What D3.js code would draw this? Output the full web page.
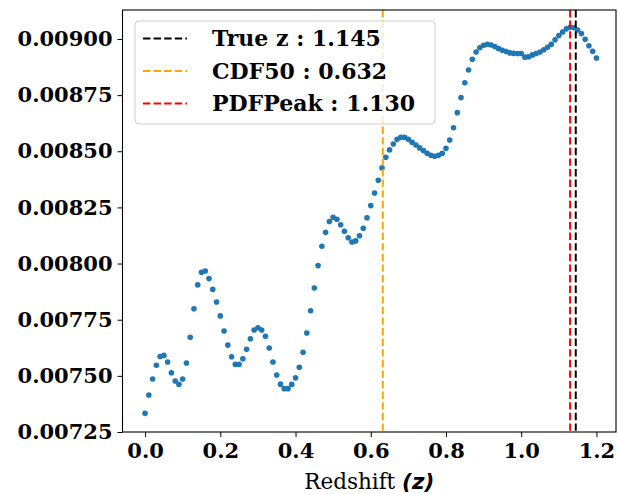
<!DOCTYPE html>
<html>
<head>
<meta charset="utf-8">
<script src="https://cdn.jsdelivr.net/npm/d3@7"></script>
<style>
  html, body { margin: 0; padding: 0; background: #fff; }
  svg { display: block; }
</style>
</head>
<body>
<svg id="chart" width="618" height="494"></svg>
<script>
// Redshift grid (0.00 .. 1.20 in steps of 0.01)
const redshift = d3.range(121).map(i => +(i * 0.01).toFixed(2));

// Probability density at each redshift
const pdfValues = [
  0.007333, 0.007415, 0.007486, 0.007547, 0.007586, 0.007591, 0.007562, 0.007514, 0.007477, 0.007462,
  0.007486, 0.007557, 0.007672, 0.007799, 0.007905, 0.007961, 0.007967, 0.007933, 0.007885, 0.007829,
  0.007767, 0.007700, 0.007637, 0.007585, 0.007551, 0.007551, 0.007576, 0.007618, 0.007665, 0.007704,
  0.007714, 0.007704, 0.007676, 0.007624, 0.007562, 0.007504, 0.007463, 0.007443, 0.007443, 0.007462,
  0.007491, 0.007538, 0.007605, 0.007691, 0.007790, 0.007891, 0.007991, 0.008077, 0.008139, 0.008187,
  0.008206, 0.008197, 0.008173, 0.008144, 0.008115, 0.008096, 0.008101, 0.008124, 0.008157, 0.008204,
  0.008258, 0.008314, 0.008371, 0.008426, 0.008473, 0.008506, 0.008532, 0.008553, 0.008562, 0.008562,
  0.008553, 0.008540, 0.008528, 0.008515, 0.008503, 0.008491, 0.008482, 0.008478, 0.008482, 0.008491,
  0.008513, 0.008550, 0.008605, 0.008672, 0.008739, 0.008805, 0.008862, 0.008910, 0.008942, 0.008961,
  0.008972, 0.008976, 0.008973, 0.008966, 0.008957, 0.008950, 0.008944, 0.008938, 0.008936, 0.008935,
  0.008935, 0.008919, 0.008921, 0.008929, 0.008935, 0.008942, 0.008952, 0.008963, 0.008976, 0.008996,
  0.009015, 0.009031, 0.009045, 0.009052, 0.009050, 0.009040, 0.009024, 0.008999, 0.008970, 0.008945,
  0.008915
];

// Reference redshifts shown as vertical dashed lines
const markerNames  = ["True z", "CDF50", "PDFPeak"];
const markerValues = [1.145, 0.632, 1.130];
const markerColors = ["#000000", "#ffa500", "#ff0000"];

// Tick labels
const xTicks = [0.0, 0.2, 0.4, 0.6, 0.8, 1.0, 1.2];
const yTicks = [0.00725, 0.00750, 0.00775, 0.00800, 0.00825, 0.00850, 0.00875, 0.00900];

const svg = d3.select("#chart");
const W = 618, H = 494;
const margin = { left: 122.5, top: 10, right: 2, bottom: 62 };
const iw = W - margin.left - margin.right;
const ih = H - margin.top - margin.bottom;

const x = d3.scaleLinear().domain([-0.06, 1.252]).range([0, iw]);
const y = d3.scaleLinear().domain([0.00725, 0.009129]).range([ih, 0]);

const g = svg.append("g").attr("transform", `translate(${margin.left},${margin.top})`);

const serif = "'DejaVu Serif', serif";

// Axes
const xAxis = g.append("g")
  .attr("transform", `translate(0,${ih})`)
  .call(d3.axisBottom(x).tickValues(xTicks).tickFormat(d3.format(".1f")).tickSize(5).tickPadding(6));
const yAxis = g.append("g")
  .call(d3.axisLeft(y).tickValues(yTicks).tickFormat(d3.format(".5f")).tickSize(5).tickPadding(5));

[xAxis, yAxis].forEach(a => {
  a.select(".domain").remove();
  a.selectAll(".tick line").attr("stroke", "#000").attr("stroke-width", 1);
  a.selectAll(".tick text")
    .attr("fill", "#000")
    .style("font-family", serif)
    .style("font-weight", "bold")
    .style("font-size", "21px");
});

// Data points
g.append("g").selectAll("circle")
  .data(redshift)
  .join("circle")
  .attr("cx", (d) => x(d))
  .attr("cy", (d, i) => y(pdfValues[i]))
  .attr("r", 2.8)
  .attr("fill", "#1f77b4");

// Vertical reference lines
markerValues.forEach((v, i) => {
  g.append("line")
    .attr("x1", x(v)).attr("x2", x(v))
    .attr("y1", 0).attr("y2", ih)
    .attr("stroke", markerColors[i])
    .attr("stroke-width", 2)
    .attr("stroke-dasharray", "7.4,3.2");
});

// Frame
g.append("rect")
  .attr("x", 0).attr("y", 0).attr("width", iw).attr("height", ih)
  .attr("fill", "none").attr("stroke", "#000").attr("stroke-width", 1.1);

// Legend
const leg = g.append("g").attr("transform", "translate(12.5,11)");
leg.append("rect")
  .attr("x", 0).attr("y", 0).attr("width", 300).attr("height", 103)
  .attr("rx", 4).attr("ry", 4)
  .attr("fill", "rgba(255,255,255,0.8)")
  .attr("stroke", "#d0d0d0").attr("stroke-width", 1);

markerNames.forEach((name, i) => {
  const cy = 17.5 + i * 32.5;
  leg.append("line")
    .attr("x1", 8).attr("x2", 52).attr("y1", cy).attr("y2", cy)
    .attr("stroke", markerColors[i]).attr("stroke-width", 2)
    .attr("stroke-dasharray", "7.4,3.2");
  leg.append("text")
    .attr("x", 77).attr("y", cy).attr("dy", "0.35em")
    .style("font-family", serif).style("font-weight", "bold").style("font-size", "22px")
    .attr("fill", "#000")
    .text(`${name} : ${markerValues[i].toFixed(3)}`);
});

// X axis title
const xl = svg.append("text")
  .attr("x", margin.left + iw / 2).attr("y", 489)
  .attr("text-anchor", "middle")
  .style("font-family", serif).style("font-size", "21.5px")
  .attr("fill", "#000");
xl.append("tspan").text("Redshift ");
xl.append("tspan")
  .style("font-family", "'DejaVu Sans', sans-serif")
  .style("font-weight", "bold").style("font-style", "italic")
  .text("(z)");
</script>
</body>
</html>
